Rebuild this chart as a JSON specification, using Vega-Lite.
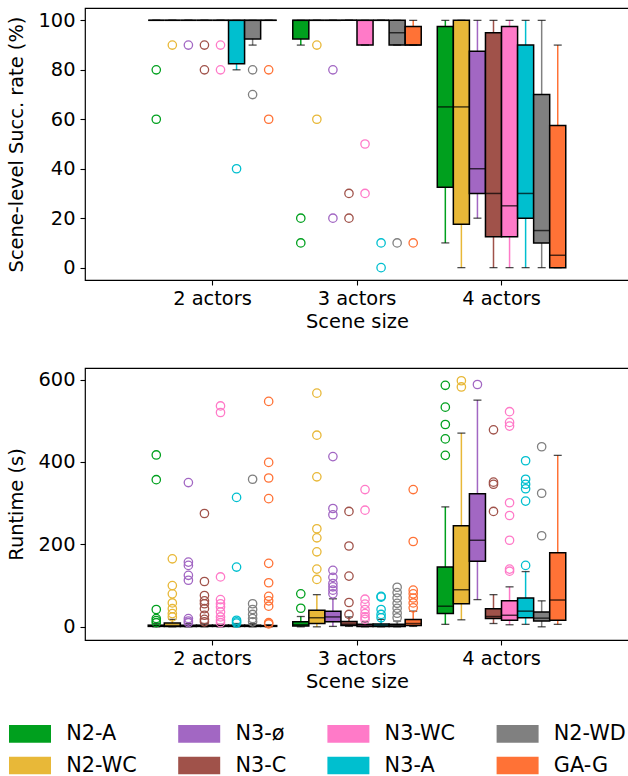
{
  "$schema": "https://vega.github.io/schema/vega-lite/v6.json",
  "padding": {"left": 6, "top": 7, "right": 0, "bottom": 0},
  "background": "white",
  "config": {
    "font": "DejaVu Sans",
    "view": {"stroke": "black", "strokeWidth": 1.2},
    "axis": {"domain": false, "grid": false, "tickColor": "black", "tickSize": 5, "tickWidth": 1.1, "labelColor": "black", "labelFont": "DejaVu Sans", "labelFontSize": 19.4, "titleFont": "DejaVu Sans", "titleFontSize": 19.4, "titleFontWeight": "normal", "titleColor": "black", "labelOverlap": false, "labelFlush": false},
    "axisX": {"labelAngle": 0, "labelPadding": 4, "titlePadding": 5},
    "axisY": {"labelPadding": 5, "titlePadding": 11}
  },
  "datasets": {
    "succ_box": [
      {"size": "2 actors", "method": "N2-A", "lo": 100, "q1": 100, "med": 100, "q3": 100, "hi": 100},
      {"size": "2 actors", "method": "N2-WC", "lo": 100, "q1": 100, "med": 100, "q3": 100, "hi": 100},
      {"size": "2 actors", "method": "N3-ø", "lo": 100, "q1": 100, "med": 100, "q3": 100, "hi": 100},
      {"size": "2 actors", "method": "N3-C", "lo": 100, "q1": 100, "med": 100, "q3": 100, "hi": 100},
      {"size": "2 actors", "method": "N3-WC", "lo": 100, "q1": 100, "med": 100, "q3": 100, "hi": 100},
      {"size": "2 actors", "method": "N3-A", "lo": 80, "q1": 82.5, "med": 100, "q3": 100, "hi": 100},
      {"size": "2 actors", "method": "N2-WD", "lo": 90, "q1": 92.5, "med": 100, "q3": 100, "hi": 100},
      {"size": "2 actors", "method": "GA-G", "lo": 100, "q1": 100, "med": 100, "q3": 100, "hi": 100},
      {"size": "3 actors", "method": "N2-A", "lo": 90, "q1": 92.5, "med": 100, "q3": 100, "hi": 100},
      {"size": "3 actors", "method": "N2-WC", "lo": 100, "q1": 100, "med": 100, "q3": 100, "hi": 100},
      {"size": "3 actors", "method": "N3-ø", "lo": 100, "q1": 100, "med": 100, "q3": 100, "hi": 100},
      {"size": "3 actors", "method": "N3-C", "lo": 100, "q1": 100, "med": 100, "q3": 100, "hi": 100},
      {"size": "3 actors", "method": "N3-WC", "lo": 90, "q1": 90, "med": 100, "q3": 100, "hi": 100},
      {"size": "3 actors", "method": "N3-A", "lo": 100, "q1": 100, "med": 100, "q3": 100, "hi": 100},
      {"size": "3 actors", "method": "N2-WD", "lo": 90, "q1": 90, "med": 95, "q3": 100, "hi": 100},
      {"size": "3 actors", "method": "GA-G", "lo": 90, "q1": 90, "med": 90, "q3": 97.5, "hi": 100},
      {"size": "4 actors", "method": "N2-A", "lo": 10, "q1": 32.5, "med": 65, "q3": 97.5, "hi": 100},
      {"size": "4 actors", "method": "N2-WC", "lo": 0, "q1": 17.5, "med": 65, "q3": 100, "hi": 100},
      {"size": "4 actors", "method": "N3-ø", "lo": 20, "q1": 30, "med": 40, "q3": 87.5, "hi": 100},
      {"size": "4 actors", "method": "N3-C", "lo": 0, "q1": 12.5, "med": 30, "q3": 95, "hi": 100},
      {"size": "4 actors", "method": "N3-WC", "lo": 0, "q1": 12.5, "med": 25, "q3": 97.5, "hi": 100},
      {"size": "4 actors", "method": "N3-A", "lo": 0, "q1": 20, "med": 30, "q3": 90, "hi": 100},
      {"size": "4 actors", "method": "N2-WD", "lo": 0, "q1": 10, "med": 15, "q3": 70, "hi": 100},
      {"size": "4 actors", "method": "GA-G", "lo": 0, "q1": 0, "med": 5, "q3": 57.5, "hi": 90}
    ],
    "succ_out": [
      {"size": "2 actors", "method": "N2-A", "v": 80}, {"size": "2 actors", "method": "N2-A", "v": 60},
      {"size": "2 actors", "method": "N2-WC", "v": 90},
      {"size": "2 actors", "method": "N3-ø", "v": 90},
      {"size": "2 actors", "method": "N3-C", "v": 90}, {"size": "2 actors", "method": "N3-C", "v": 80},
      {"size": "2 actors", "method": "N3-WC", "v": 90}, {"size": "2 actors", "method": "N3-WC", "v": 80},
      {"size": "2 actors", "method": "N3-A", "v": 40},
      {"size": "2 actors", "method": "N2-WD", "v": 80}, {"size": "2 actors", "method": "N2-WD", "v": 70},
      {"size": "2 actors", "method": "GA-G", "v": 80}, {"size": "2 actors", "method": "GA-G", "v": 60},
      {"size": "3 actors", "method": "N2-A", "v": 20}, {"size": "3 actors", "method": "N2-A", "v": 10},
      {"size": "3 actors", "method": "N2-WC", "v": 90}, {"size": "3 actors", "method": "N2-WC", "v": 60},
      {"size": "3 actors", "method": "N3-ø", "v": 80}, {"size": "3 actors", "method": "N3-ø", "v": 20},
      {"size": "3 actors", "method": "N3-C", "v": 30}, {"size": "3 actors", "method": "N3-C", "v": 20},
      {"size": "3 actors", "method": "N3-WC", "v": 50}, {"size": "3 actors", "method": "N3-WC", "v": 30},
      {"size": "3 actors", "method": "N3-A", "v": 10}, {"size": "3 actors", "method": "N3-A", "v": 0},
      {"size": "3 actors", "method": "N2-WD", "v": 10},
      {"size": "3 actors", "method": "GA-G", "v": 10}
    ],
    "rt_box": [
      {"size": "2 actors", "method": "N2-A", "lo": 0, "q1": 1, "med": 2, "q3": 4, "hi": 8},
      {"size": "2 actors", "method": "N2-WC", "lo": 0, "q1": 1, "med": 3, "q3": 9, "hi": 18},
      {"size": "2 actors", "method": "N3-ø", "lo": 0, "q1": 1, "med": 2, "q3": 4, "hi": 8},
      {"size": "2 actors", "method": "N3-C", "lo": 0, "q1": 1, "med": 2, "q3": 4, "hi": 8},
      {"size": "2 actors", "method": "N3-WC", "lo": 0, "q1": 1, "med": 2, "q3": 4, "hi": 6},
      {"size": "2 actors", "method": "N3-A", "lo": 0, "q1": 1, "med": 2, "q3": 4, "hi": 8},
      {"size": "2 actors", "method": "N2-WD", "lo": 0, "q1": 1, "med": 2, "q3": 4, "hi": 8},
      {"size": "2 actors", "method": "GA-G", "lo": 0, "q1": 1, "med": 2, "q3": 3, "hi": 5},
      {"size": "3 actors", "method": "N2-A", "lo": 0, "q1": 2, "med": 5, "q3": 12, "hi": 25},
      {"size": "3 actors", "method": "N2-WC", "lo": 0, "q1": 8, "med": 22, "q3": 40, "hi": 78},
      {"size": "3 actors", "method": "N3-ø", "lo": 1, "q1": 12, "med": 24, "q3": 38, "hi": 68},
      {"size": "3 actors", "method": "N3-C", "lo": 1, "q1": 3, "med": 6, "q3": 13, "hi": 24},
      {"size": "3 actors", "method": "N3-WC", "lo": 0, "q1": 1, "med": 3, "q3": 6, "hi": 12},
      {"size": "3 actors", "method": "N3-A", "lo": 0, "q1": 1, "med": 3, "q3": 7, "hi": 18},
      {"size": "3 actors", "method": "N2-WD", "lo": 0, "q1": 1, "med": 3, "q3": 6, "hi": 14},
      {"size": "3 actors", "method": "GA-G", "lo": 1, "q1": 3, "med": 8, "q3": 18, "hi": 38},
      {"size": "4 actors", "method": "N2-A", "lo": 6, "q1": 32, "med": 50, "q3": 145, "hi": 291},
      {"size": "4 actors", "method": "N2-WC", "lo": 17, "q1": 56, "med": 90, "q3": 245, "hi": 470},
      {"size": "4 actors", "method": "N3-ø", "lo": 66, "q1": 159, "med": 210, "q3": 323, "hi": 550},
      {"size": "4 actors", "method": "N3-C", "lo": 8, "q1": 20, "med": 25, "q3": 44, "hi": 78},
      {"size": "4 actors", "method": "N3-WC", "lo": 5, "q1": 16, "med": 28, "q3": 63, "hi": 97},
      {"size": "4 actors", "method": "N3-A", "lo": 6, "q1": 22, "med": 38, "q3": 70, "hi": 134},
      {"size": "4 actors", "method": "N2-WD", "lo": 0, "q1": 14, "med": 21, "q3": 36, "hi": 63},
      {"size": "4 actors", "method": "GA-G", "lo": 6, "q1": 16, "med": 65, "q3": 180, "hi": 416}
    ],
    "rt_out": [
      {"size": "2 actors", "method": "N2-A", "v": 417}, {"size": "2 actors", "method": "N2-A", "v": 357}, {"size": "2 actors", "method": "N2-A", "v": 42}, {"size": "2 actors", "method": "N2-A", "v": 20}, {"size": "2 actors", "method": "N2-A", "v": 15}, {"size": "2 actors", "method": "N2-A", "v": 10},
      {"size": "2 actors", "method": "N2-WC", "v": 165}, {"size": "2 actors", "method": "N2-WC", "v": 100}, {"size": "2 actors", "method": "N2-WC", "v": 80}, {"size": "2 actors", "method": "N2-WC", "v": 58}, {"size": "2 actors", "method": "N2-WC", "v": 44}, {"size": "2 actors", "method": "N2-WC", "v": 32}, {"size": "2 actors", "method": "N2-WC", "v": 24},
      {"size": "2 actors", "method": "N3-ø", "v": 350}, {"size": "2 actors", "method": "N3-ø", "v": 157}, {"size": "2 actors", "method": "N3-ø", "v": 149}, {"size": "2 actors", "method": "N3-ø", "v": 125}, {"size": "2 actors", "method": "N3-ø", "v": 113}, {"size": "2 actors", "method": "N3-ø", "v": 20}, {"size": "2 actors", "method": "N3-ø", "v": 14}, {"size": "2 actors", "method": "N3-ø", "v": 10},
      {"size": "2 actors", "method": "N3-C", "v": 275}, {"size": "2 actors", "method": "N3-C", "v": 110}, {"size": "2 actors", "method": "N3-C", "v": 76}, {"size": "2 actors", "method": "N3-C", "v": 63}, {"size": "2 actors", "method": "N3-C", "v": 56}, {"size": "2 actors", "method": "N3-C", "v": 44}, {"size": "2 actors", "method": "N3-C", "v": 28}, {"size": "2 actors", "method": "N3-C", "v": 18}, {"size": "2 actors", "method": "N3-C", "v": 12},
      {"size": "2 actors", "method": "N3-WC", "v": 536}, {"size": "2 actors", "method": "N3-WC", "v": 520}, {"size": "2 actors", "method": "N3-WC", "v": 121}, {"size": "2 actors", "method": "N3-WC", "v": 66}, {"size": "2 actors", "method": "N3-WC", "v": 56}, {"size": "2 actors", "method": "N3-WC", "v": 48}, {"size": "2 actors", "method": "N3-WC", "v": 36}, {"size": "2 actors", "method": "N3-WC", "v": 24}, {"size": "2 actors", "method": "N3-WC", "v": 16}, {"size": "2 actors", "method": "N3-WC", "v": 10},
      {"size": "2 actors", "method": "N3-A", "v": 314}, {"size": "2 actors", "method": "N3-A", "v": 145}, {"size": "2 actors", "method": "N3-A", "v": 16}, {"size": "2 actors", "method": "N3-A", "v": 12}, {"size": "2 actors", "method": "N3-A", "v": 9},
      {"size": "2 actors", "method": "N2-WD", "v": 358}, {"size": "2 actors", "method": "N2-WD", "v": 56}, {"size": "2 actors", "method": "N2-WD", "v": 42}, {"size": "2 actors", "method": "N2-WD", "v": 30}, {"size": "2 actors", "method": "N2-WD", "v": 20}, {"size": "2 actors", "method": "N2-WD", "v": 12},
      {"size": "2 actors", "method": "GA-G", "v": 547}, {"size": "2 actors", "method": "GA-G", "v": 399}, {"size": "2 actors", "method": "GA-G", "v": 361}, {"size": "2 actors", "method": "GA-G", "v": 311}, {"size": "2 actors", "method": "GA-G", "v": 154}, {"size": "2 actors", "method": "GA-G", "v": 107}, {"size": "2 actors", "method": "GA-G", "v": 74}, {"size": "2 actors", "method": "GA-G", "v": 63}, {"size": "2 actors", "method": "GA-G", "v": 50}, {"size": "2 actors", "method": "GA-G", "v": 10}, {"size": "2 actors", "method": "GA-G", "v": 7},
      {"size": "3 actors", "method": "N2-A", "v": 80}, {"size": "3 actors", "method": "N2-A", "v": 45},
      {"size": "3 actors", "method": "N2-WC", "v": 567}, {"size": "3 actors", "method": "N2-WC", "v": 465}, {"size": "3 actors", "method": "N2-WC", "v": 364}, {"size": "3 actors", "method": "N2-WC", "v": 238}, {"size": "3 actors", "method": "N2-WC", "v": 216}, {"size": "3 actors", "method": "N2-WC", "v": 182}, {"size": "3 actors", "method": "N2-WC", "v": 140}, {"size": "3 actors", "method": "N2-WC", "v": 115},
      {"size": "3 actors", "method": "N3-ø", "v": 413}, {"size": "3 actors", "method": "N3-ø", "v": 287}, {"size": "3 actors", "method": "N3-ø", "v": 272}, {"size": "3 actors", "method": "N3-ø", "v": 137}, {"size": "3 actors", "method": "N3-ø", "v": 120}, {"size": "3 actors", "method": "N3-ø", "v": 105}, {"size": "3 actors", "method": "N3-ø", "v": 97}, {"size": "3 actors", "method": "N3-ø", "v": 89}, {"size": "3 actors", "method": "N3-ø", "v": 80},
      {"size": "3 actors", "method": "N3-C", "v": 280}, {"size": "3 actors", "method": "N3-C", "v": 196}, {"size": "3 actors", "method": "N3-C", "v": 123}, {"size": "3 actors", "method": "N3-C", "v": 59}, {"size": "3 actors", "method": "N3-C", "v": 30},
      {"size": "3 actors", "method": "N3-WC", "v": 333}, {"size": "3 actors", "method": "N3-WC", "v": 283}, {"size": "3 actors", "method": "N3-WC", "v": 67}, {"size": "3 actors", "method": "N3-WC", "v": 55}, {"size": "3 actors", "method": "N3-WC", "v": 42}, {"size": "3 actors", "method": "N3-WC", "v": 32}, {"size": "3 actors", "method": "N3-WC", "v": 24}, {"size": "3 actors", "method": "N3-WC", "v": 18},
      {"size": "3 actors", "method": "N3-A", "v": 74}, {"size": "3 actors", "method": "N3-A", "v": 72}, {"size": "3 actors", "method": "N3-A", "v": 42}, {"size": "3 actors", "method": "N3-A", "v": 30}, {"size": "3 actors", "method": "N3-A", "v": 22},
      {"size": "3 actors", "method": "N2-WD", "v": 96}, {"size": "3 actors", "method": "N2-WD", "v": 83}, {"size": "3 actors", "method": "N2-WD", "v": 70}, {"size": "3 actors", "method": "N2-WD", "v": 57}, {"size": "3 actors", "method": "N2-WD", "v": 45}, {"size": "3 actors", "method": "N2-WD", "v": 33}, {"size": "3 actors", "method": "N2-WD", "v": 22},
      {"size": "3 actors", "method": "GA-G", "v": 333}, {"size": "3 actors", "method": "GA-G", "v": 207}, {"size": "3 actors", "method": "GA-G", "v": 89}, {"size": "3 actors", "method": "GA-G", "v": 80}, {"size": "3 actors", "method": "GA-G", "v": 70}, {"size": "3 actors", "method": "GA-G", "v": 58}, {"size": "3 actors", "method": "GA-G", "v": 46},
      {"size": "4 actors", "method": "N2-A", "v": 586}, {"size": "4 actors", "method": "N2-A", "v": 533}, {"size": "4 actors", "method": "N2-A", "v": 491}, {"size": "4 actors", "method": "N2-A", "v": 456}, {"size": "4 actors", "method": "N2-A", "v": 416},
      {"size": "4 actors", "method": "N2-WC", "v": 597}, {"size": "4 actors", "method": "N2-WC", "v": 582},
      {"size": "4 actors", "method": "N3-ø", "v": 588},
      {"size": "4 actors", "method": "N3-C", "v": 478}, {"size": "4 actors", "method": "N3-C", "v": 351}, {"size": "4 actors", "method": "N3-C", "v": 346}, {"size": "4 actors", "method": "N3-C", "v": 280},
      {"size": "4 actors", "method": "N3-WC", "v": 522}, {"size": "4 actors", "method": "N3-WC", "v": 496}, {"size": "4 actors", "method": "N3-WC", "v": 487}, {"size": "4 actors", "method": "N3-WC", "v": 301}, {"size": "4 actors", "method": "N3-WC", "v": 270}, {"size": "4 actors", "method": "N3-WC", "v": 210}, {"size": "4 actors", "method": "N3-WC", "v": 140}, {"size": "4 actors", "method": "N3-WC", "v": 135},
      {"size": "4 actors", "method": "N3-A", "v": 403}, {"size": "4 actors", "method": "N3-A", "v": 358}, {"size": "4 actors", "method": "N3-A", "v": 346}, {"size": "4 actors", "method": "N3-A", "v": 335}, {"size": "4 actors", "method": "N3-A", "v": 305}, {"size": "4 actors", "method": "N3-A", "v": 149},
      {"size": "4 actors", "method": "N2-WD", "v": 437}, {"size": "4 actors", "method": "N2-WD", "v": 324}, {"size": "4 actors", "method": "N2-WD", "v": 221}
    ]
  },
  "spacing": 88,
  "bounds": "flush",
  "resolve": {"scale": {"y": "independent"}, "axis": {"x": "independent", "y": "independent"}},
  "vconcat": [
    {
      "width": 544, "height": 272,
      "layer": [
        {"data": {"name": "succ_box"}, "mark": {"type": "rule", "strokeWidth": 1.5},
         "encoding": {
           "x": {"field": "size", "type": "nominal", "scale": {"paddingInner": 0, "paddingOuter": 0.382}, "axis": {"title": "Scene size", "tickBand": "center"}},
           "xOffset": {"field": "method", "type": "nominal", "scale": {"domain": ["N2-A","N2-WC","N3-ø","N3-C","N3-WC","N3-A","N2-WD","GA-G"], "paddingInner": 0, "paddingOuter": 0.5}},
           "y": {"field": "lo", "type": "quantitative", "scale": {"domain": [-5, 105], "nice": false, "zero": false}, "axis": {"values": [0,20,40,60,80,100], "title": "Scene-level Succ. rate (%)"}},
           "y2": {"field": "hi"},
           "color": {"field": "method", "type": "nominal", "scale": {"domain": ["N2-A","N3-ø","N3-WC","N2-WD","N2-WC","N3-C","N3-A","GA-G"], "range": ["#00a01e","#a267c3","#ff7ac8","#808080","#e8b838","#a0524a","#00bfcf","#ff7236"]},
             "legend": {"orient": "none", "legendX": -65.5, "legendY": 715, "columns": 4, "direction": "horizontal", "title": null, "symbolType": "M-2,-0.84L2,-0.84L2,0.84L-2,0.84Z", "symbolSize": 441, "symbolStrokeWidth": 0, "symbolOpacity": 1, "labelFontSize": 20.8, "labelFont": "DejaVu Sans", "labelColor": "black", "labelOffset": 25.7, "columnPadding": 40.2, "rowPadding": 10, "padding": 0,
               "encode": {"symbols": {"update": {"fill": {"scale": "color", "field": "value"}, "stroke": {"value": "transparent"}, "strokeWidth": {"value": 0}, "fillOpacity": {"value": 1}, "opacity": {"value": 1}}}}}}
         }},
        {"data": {"name": "succ_box"}, "mark": {"type": "bar", "stroke": "black", "strokeWidth": 1.5, "opacity": 1},
         "encoding": {
           "x": {"field": "size", "type": "nominal"},
           "xOffset": {"field": "method", "type": "nominal"},
           "y": {"field": "q1", "type": "quantitative", "title": "Scene-level Succ. rate (%)"},
           "y2": {"field": "q3"},
           "color": {"field": "method", "type": "nominal"}
         }},
        {"data": {"name": "succ_box"}, "mark": {"type": "tick", "color": "black", "size": 16, "thickness": 1.5},
         "encoding": {
           "x": {"field": "size", "type": "nominal"},
           "xOffset": {"field": "method", "type": "nominal"},
           "y": {"field": "med", "type": "quantitative", "title": "Scene-level Succ. rate (%)"}
         }},
        {"data": {"name": "succ_box"}, "mark": {"type": "tick", "color": "black", "size": 8, "thickness": 1.3},
         "encoding": {
           "x": {"field": "size", "type": "nominal"},
           "xOffset": {"field": "method", "type": "nominal"},
           "y": {"field": "lo", "type": "quantitative", "title": "Scene-level Succ. rate (%)"}
         }},
        {"data": {"name": "succ_box"}, "mark": {"type": "tick", "color": "black", "size": 8, "thickness": 1.3},
         "encoding": {
           "x": {"field": "size", "type": "nominal"},
           "xOffset": {"field": "method", "type": "nominal"},
           "y": {"field": "hi", "type": "quantitative", "title": "Scene-level Succ. rate (%)"}
         }},
        {"data": {"name": "succ_out"}, "mark": {"type": "point", "shape": "circle", "filled": false, "size": 70, "strokeWidth": 1.3, "opacity": 1},
         "encoding": {
           "x": {"field": "size", "type": "nominal"},
           "xOffset": {"field": "method", "type": "nominal"},
           "y": {"field": "v", "type": "quantitative", "title": "Scene-level Succ. rate (%)"},
           "color": {"field": "method", "type": "nominal"}
         }}
      ]
    },
    {
      "width": 544, "height": 272,
      "layer": [
        {"data": {"name": "rt_box"}, "mark": {"type": "rule", "strokeWidth": 1.5},
         "encoding": {
           "x": {"field": "size", "type": "nominal", "scale": {"paddingInner": 0, "paddingOuter": 0.382}, "axis": {"title": "Scene size", "tickBand": "center"}},
           "xOffset": {"field": "method", "type": "nominal", "scale": {"domain": ["N2-A","N2-WC","N3-ø","N3-C","N3-WC","N3-A","N2-WD","GA-G"], "paddingInner": 0, "paddingOuter": 0.5}},
           "y": {"field": "lo", "type": "quantitative", "scale": {"domain": [-32, 628], "nice": false, "zero": false}, "axis": {"values": [0,200,400,600], "title": "Runtime (s)"}},
           "y2": {"field": "hi"},
           "color": {"field": "method", "type": "nominal"}
         }},
        {"data": {"name": "rt_box"}, "mark": {"type": "bar", "stroke": "black", "strokeWidth": 1.5, "opacity": 1},
         "encoding": {
           "x": {"field": "size", "type": "nominal"},
           "xOffset": {"field": "method", "type": "nominal"},
           "y": {"field": "q1", "type": "quantitative", "title": "Runtime (s)"},
           "y2": {"field": "q3"},
           "color": {"field": "method", "type": "nominal"}
         }},
        {"data": {"name": "rt_box"}, "mark": {"type": "tick", "color": "black", "size": 16, "thickness": 1.5},
         "encoding": {
           "x": {"field": "size", "type": "nominal"},
           "xOffset": {"field": "method", "type": "nominal"},
           "y": {"field": "med", "type": "quantitative", "title": "Runtime (s)"}
         }},
        {"data": {"name": "rt_box"}, "mark": {"type": "tick", "color": "black", "size": 8, "thickness": 1.3},
         "encoding": {
           "x": {"field": "size", "type": "nominal"},
           "xOffset": {"field": "method", "type": "nominal"},
           "y": {"field": "lo", "type": "quantitative", "title": "Runtime (s)"}
         }},
        {"data": {"name": "rt_box"}, "mark": {"type": "tick", "color": "black", "size": 8, "thickness": 1.3},
         "encoding": {
           "x": {"field": "size", "type": "nominal"},
           "xOffset": {"field": "method", "type": "nominal"},
           "y": {"field": "hi", "type": "quantitative", "title": "Runtime (s)"}
         }},
        {"data": {"name": "rt_out"}, "mark": {"type": "point", "shape": "circle", "filled": false, "size": 70, "strokeWidth": 1.3, "opacity": 1},
         "encoding": {
           "x": {"field": "size", "type": "nominal"},
           "xOffset": {"field": "method", "type": "nominal"},
           "y": {"field": "v", "type": "quantitative", "title": "Runtime (s)"},
           "color": {"field": "method", "type": "nominal"}
         }}
      ]
    }
  ]
}
